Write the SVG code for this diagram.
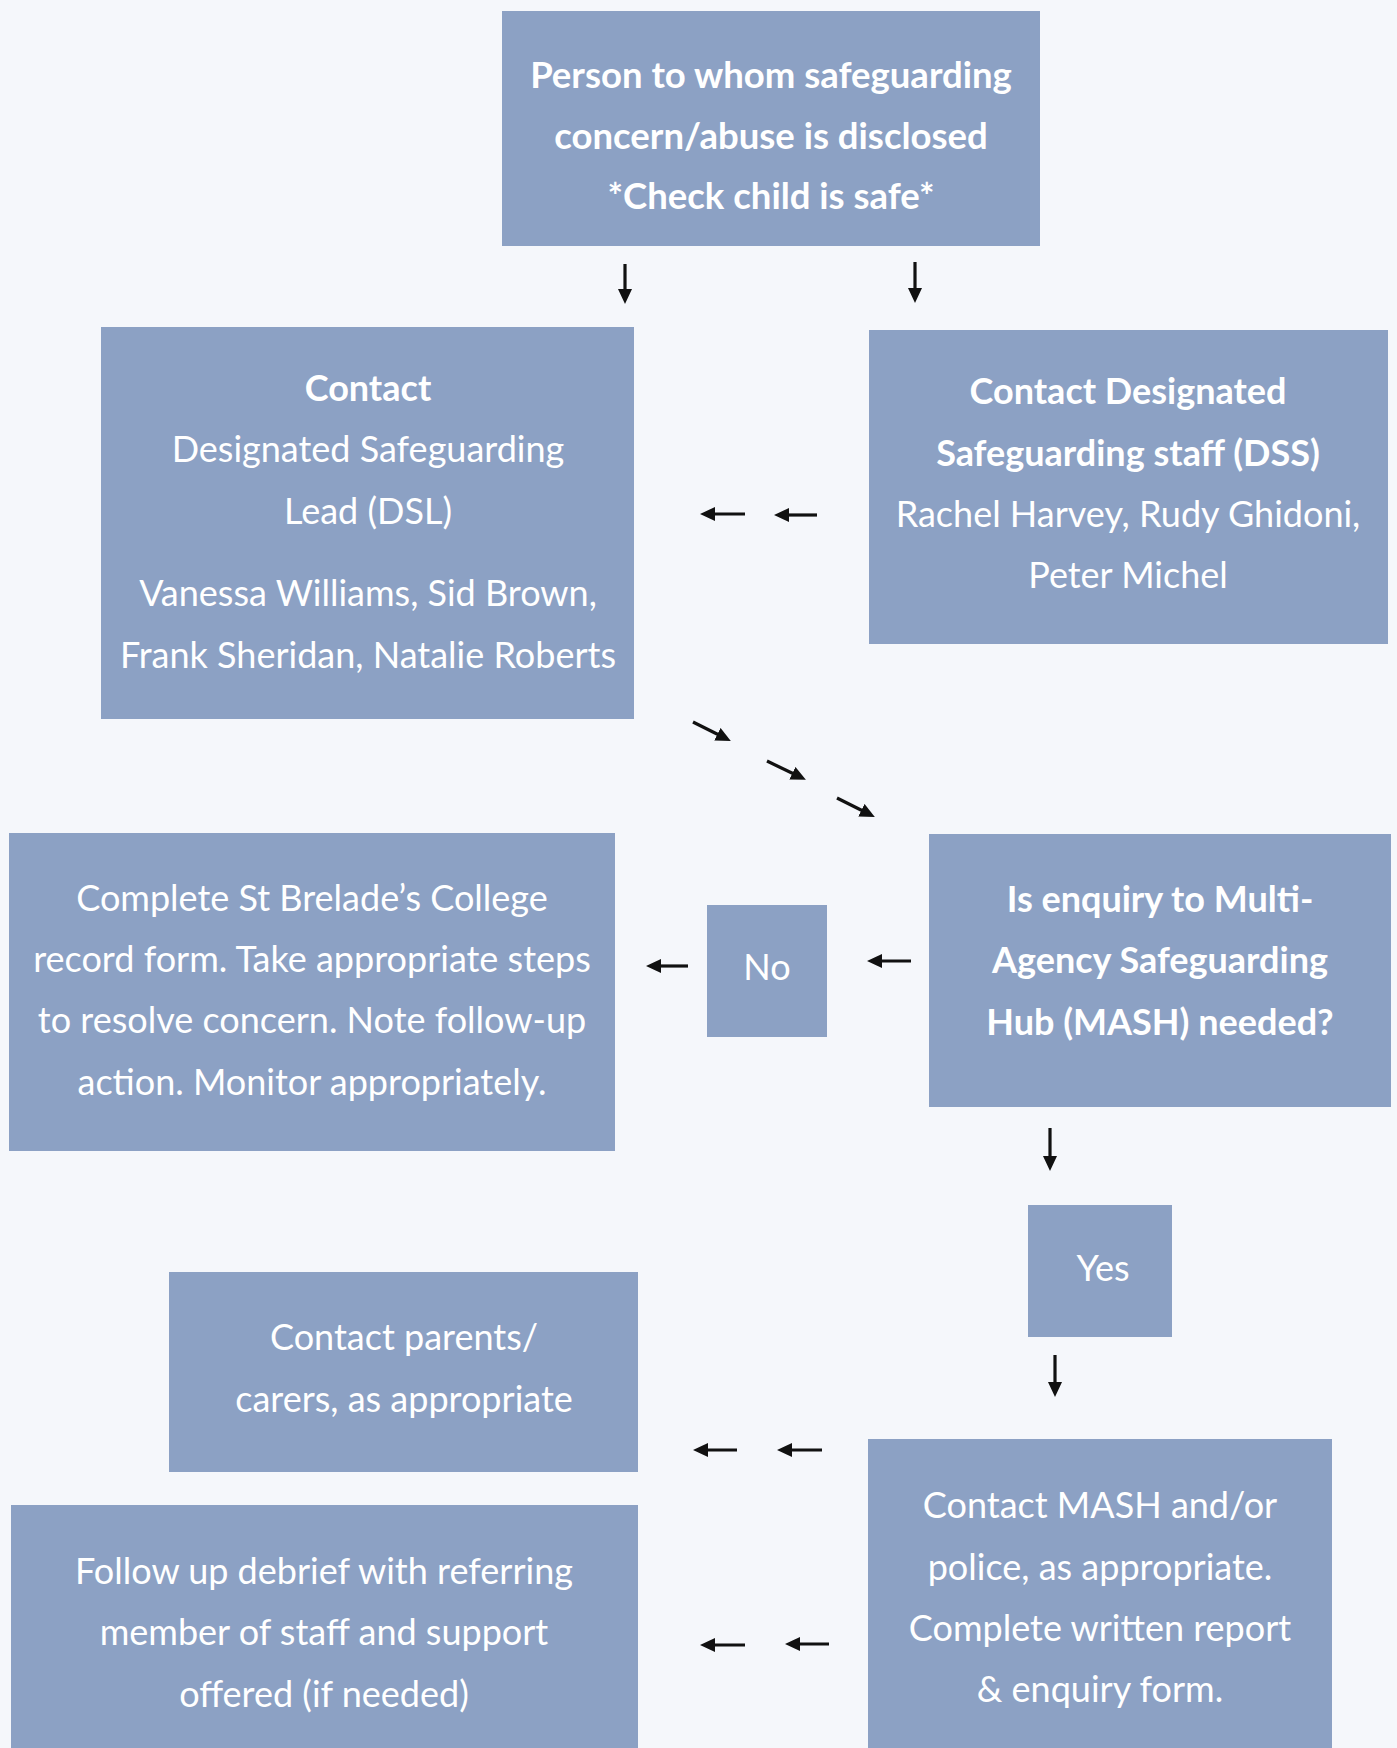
<svg xmlns="http://www.w3.org/2000/svg" width="1397" height="1748" viewBox="0 0 1397 1748">
<style>
.box{fill:#8ca1c4}
.t{font-family:Lato,"Open Sans","Liberation Sans",sans-serif;font-size:36px;fill:#ffffff;text-anchor:middle}
.b{font-weight:bold}
.top{font-size:36.5px}
.arr{stroke:#111;stroke-width:3.2;fill:none;marker-end:url(#ah)}
</style>
<defs>
<marker id="ah" viewBox="0 0 15 14" refX="4" refY="7" markerWidth="15" markerHeight="14" markerUnits="userSpaceOnUse" orient="auto">
<path d="M0,0 L15,7 L0,14 z" fill="#111"/>
</marker>
</defs>
<rect width="1397" height="1748" fill="#f5f7fb"/>
<g id="n-disclosed">
<rect class="box" x="502" y="11" width="538" height="235"/>
<text class="t b top" x="771" y="88">Person to whom safeguarding</text>
<text class="t b top" x="771" y="149">concern/abuse is disclosed</text>
<text class="t b top" x="771" y="209">*Check child is safe*</text>
</g>
<g id="n-dsl">
<rect class="box" x="101" y="327" width="533" height="392"/>
<text class="t b" x="368" y="401">Contact</text>
<text class="t" x="368" y="462">Designated Safeguarding</text>
<text class="t" x="368" y="524">Lead (DSL)</text>
<text class="t" x="368" y="606">Vanessa Williams, Sid Brown,</text>
<text class="t" x="368" y="668">Frank Sheridan, Natalie Roberts</text>
</g>
<g id="n-dss">
<rect class="box" x="869" y="330" width="519" height="314"/>
<text class="t b" x="1128" y="404">Contact Designated</text>
<text class="t b" x="1128" y="466">Safeguarding staff (DSS)</text>
<text class="t" x="1128" y="527">Rachel Harvey, Rudy Ghidoni,</text>
<text class="t" x="1128" y="588">Peter Michel</text>
</g>
<g id="n-record">
<rect class="box" x="9" y="833" width="606" height="318"/>
<text class="t" x="312" y="911">Complete St Brelade’s College</text>
<text class="t" x="312" y="972">record form. Take appropriate steps</text>
<text class="t" x="312" y="1033">to resolve concern. Note follow-up</text>
<text class="t" x="312" y="1095">action. Monitor appropriately.</text>
</g>
<g id="n-no">
<rect class="box" x="707" y="905" width="120" height="132"/>
<text class="t" x="767" y="980">No</text>
</g>
<g id="n-mash-q">
<rect class="box" x="929" y="834" width="462" height="273"/>
<text class="t b" x="1160" y="912">Is enquiry to Multi-</text>
<text class="t b" x="1160" y="973">Agency Safeguarding</text>
<text class="t b" x="1160" y="1035">Hub (MASH) needed?</text>
</g>
<g id="n-yes">
<rect class="box" x="1028" y="1205" width="144" height="132"/>
<text class="t" x="1103" y="1281">Yes</text>
</g>
<g id="n-parents">
<rect class="box" x="169" y="1272" width="469" height="200"/>
<text class="t" x="404" y="1350">Contact parents/</text>
<text class="t" x="404" y="1412">carers, as appropriate</text>
</g>
<g id="n-debrief">
<rect class="box" x="11" y="1505" width="627" height="250"/>
<text class="t" x="324" y="1584">Follow up debrief with referring</text>
<text class="t" x="324" y="1645">member of staff and support</text>
<text class="t" x="324" y="1707">offered (if needed)</text>
</g>
<g id="n-mash-contact">
<rect class="box" x="868" y="1439" width="464" height="316"/>
<text class="t" x="1100" y="1518">Contact MASH and/or</text>
<text class="t" x="1100" y="1580">police, as appropriate.</text>
<text class="t" x="1100" y="1641">Complete written report</text>
<text class="t" x="1100" y="1702">&amp; enquiry form.</text>
</g>
<g id="connectors">
<line class="arr" x1="625" y1="264" x2="625" y2="293"/>
<line class="arr" x1="915" y1="262" x2="915" y2="292"/>
<line class="arr" x1="745" y1="514" x2="711" y2="514"/>
<line class="arr" x1="817" y1="515" x2="785" y2="515"/>
<line class="arr" x1="693" y1="722" x2="721" y2="736"/>
<line class="arr" x1="767" y1="761" x2="796" y2="775"/>
<line class="arr" x1="837" y1="798" x2="865" y2="812"/>
<line class="arr" x1="688" y1="966" x2="657" y2="966"/>
<line class="arr" x1="911" y1="961" x2="878" y2="961"/>
<line class="arr" x1="1050" y1="1128" x2="1050" y2="1160"/>
<line class="arr" x1="1055" y1="1355" x2="1055" y2="1386"/>
<line class="arr" x1="737" y1="1450" x2="704" y2="1450"/>
<line class="arr" x1="822" y1="1450" x2="788" y2="1450"/>
<line class="arr" x1="745" y1="1645" x2="711" y2="1645"/>
<line class="arr" x1="829" y1="1644" x2="796" y2="1644"/>
</g>
</svg>
